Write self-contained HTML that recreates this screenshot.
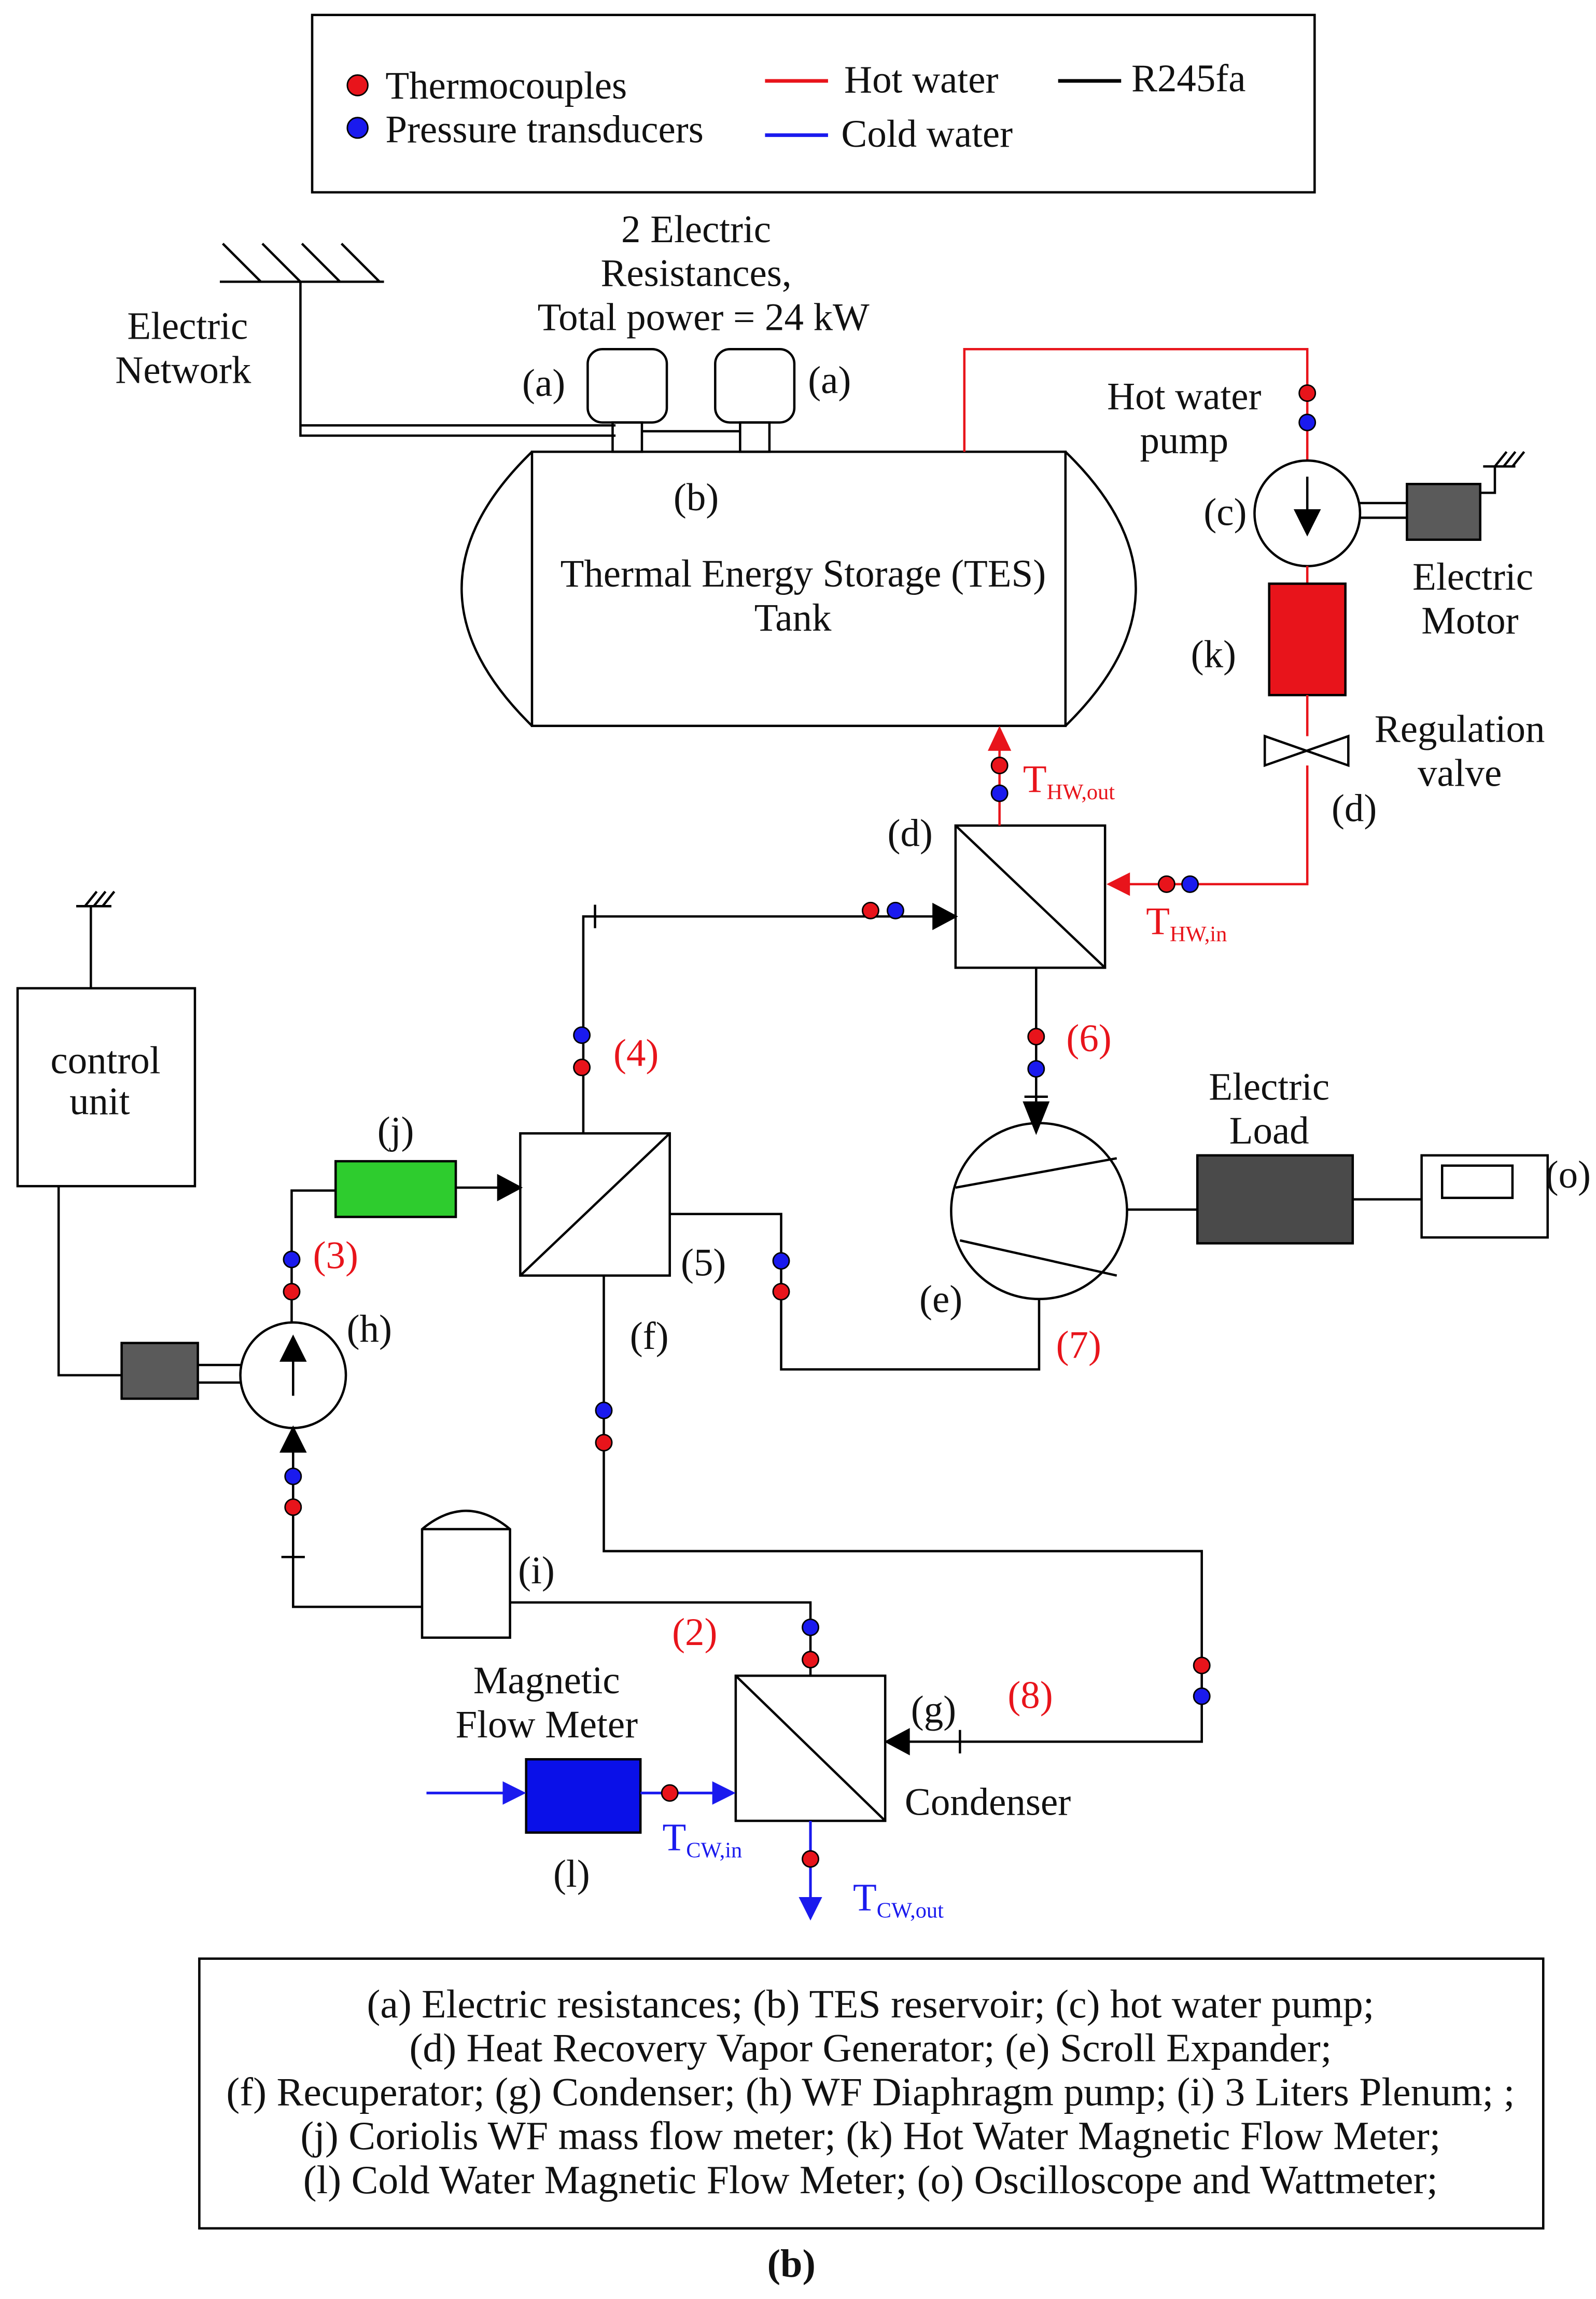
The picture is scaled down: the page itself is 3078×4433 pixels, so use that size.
<!DOCTYPE html>
<html><head><meta charset="utf-8">
<style>
html,body{margin:0;padding:0;background:#fff;}
svg{display:block;}
text{font-family:"Liberation Serif",serif;font-size:26.5px;fill:#111;}
.r{fill:#e8141b;}
.b{fill:#1a1aee;}
.cap{font-size:27.5px;}
</style></head><body>
<svg width="3078" height="4433" viewBox="0 0 1089 1568" xmlns="http://www.w3.org/2000/svg">
<g fill="none" stroke="#000" stroke-width="1.6">
<rect x="213" y="10" width="684" height="121"/>
<line x1="522" y1="55" x2="565" y2="55" stroke="#e8141b" stroke-width="2.5"/>
<line x1="522" y1="92" x2="565" y2="92" stroke="#1a1aee" stroke-width="2.5"/>
<line x1="722" y1="55" x2="765" y2="55" stroke-width="2.5"/>
<line x1="150" y1="192" x2="262" y2="192"/>
<line x1="178" y1="192" x2="152" y2="166"/>
<line x1="205" y1="192" x2="179" y2="166"/>
<line x1="232" y1="192" x2="206" y2="166"/>
<line x1="259" y1="192" x2="233" y2="166"/>
<polyline points="205,192 205,297 420,297"/>
<line x1="205" y1="290" x2="420" y2="290"/>
<line x1="438" y1="294" x2="505" y2="294"/>
<rect x="401" y="238" width="54" height="50" rx="10"/>
<rect x="488" y="238" width="54" height="50" rx="10"/>
<rect x="418" y="288" width="20" height="20"/>
<rect x="505" y="288" width="20" height="20"/>
<rect x="363" y="308" width="364" height="187"/>
<path d="M363,308 Q267,401 363,495"/>
<path d="M727,308 Q823,401 727,495"/>
<polyline points="658,308 658,238 892,238 892,314" stroke="#e8141b"/>
<circle cx="892" cy="350" r="36"/>
<line x1="892" y1="325" x2="892" y2="352"/>
<path d="M884,348 L900,348 L892,364 z" fill="#000"/>
<line x1="928" y1="343" x2="960" y2="343"/><line x1="928" y1="353" x2="960" y2="353"/>
<rect x="960" y="330" width="50" height="38" fill="#5a5a5a"/>
<polyline points="1010,336 1020,336 1020,318"/>
<line x1="1012" y1="318" x2="1034" y2="318"/>
<line x1="1020" y1="318" x2="1028" y2="308"/><line x1="1026" y1="318" x2="1034" y2="308"/><line x1="1032" y1="318" x2="1040" y2="308"/>
<line x1="892" y1="386" x2="892" y2="398" stroke="#e8141b"/>
<rect x="866" y="398" width="52" height="76" fill="#e8141b"/>
<line x1="892" y1="474" x2="892" y2="502" stroke="#e8141b"/>
<path d="M863,502 L920,522 L920,502 L863,522 z"/>
<polyline points="892,522 892,603 768,603" stroke="#e8141b"/>
<path d="M755,603 L771,595 L771,611 z" fill="#e8141b" stroke="none"/>
<rect x="652" y="563" width="102" height="97"/>
<line x1="652" y1="563" x2="754" y2="660"/>
<line x1="682" y1="563" x2="682" y2="510" stroke="#e8141b"/>
<path d="M682,495 L674,512 L690,512 z" fill="#e8141b" stroke="none"/>
<polyline points="398,773 398,625 640,625"/>
<line x1="406" y1="617" x2="406" y2="633"/>
<path d="M652,625 L637,617 L637,633 z" fill="#000"/>
<line x1="707" y1="660" x2="707" y2="756"/>
<line x1="699" y1="748" x2="715" y2="748"/>
<path d="M707,772 L699,752 L715,752 z" fill="#000"/>
<circle cx="709" cy="826" r="60"/>
<line x1="652" y1="810" x2="762" y2="790"/>
<line x1="655" y1="846" x2="762" y2="870"/>
<line x1="769" y1="825" x2="817" y2="825"/>
<rect x="817" y="788" width="106" height="60" fill="#4a4a4a"/>
<line x1="923" y1="818" x2="970" y2="818"/>
<rect x="970" y="788" width="86" height="56"/>
<rect x="984" y="795" width="48" height="22"/>
<polyline points="709,886 709,934 533,934 533,828 457,828"/>
<rect x="355" y="773" width="102" height="97"/>
<line x1="355" y1="870" x2="457" y2="773"/>
<polyline points="412,870 412,1058 820,1058 820,1188 618,1188"/>
<line x1="655" y1="1180" x2="655" y2="1196"/>
<path d="M605,1188 L620,1180 L620,1196 z" fill="#000"/>
<rect x="229" y="792" width="82" height="38" fill="#2ecc2e"/>
<line x1="311" y1="810" x2="342" y2="810"/>
<path d="M355,810 L340,802 L340,818 z" fill="#000"/>
<polyline points="229,812 199,812 199,902"/>
<circle cx="200" cy="938" r="36"/>
<line x1="200" y1="922" x2="200" y2="952"/>
<path d="M192,928 L208,928 L200,912 z" fill="#000"/>
<line x1="135" y1="931" x2="165" y2="931"/><line x1="135" y1="943" x2="165" y2="943"/>
<rect x="83" y="916" width="52" height="38" fill="#5a5a5a"/>
<rect x="12" y="674" width="121" height="135"/>
<polyline points="40,809 40,938 83,938"/>
<line x1="62" y1="674" x2="62" y2="618"/>
<line x1="52" y1="618" x2="76" y2="618"/>
<line x1="58" y1="618" x2="66" y2="608"/><line x1="64" y1="618" x2="72" y2="608"/><line x1="70" y1="618" x2="78" y2="608"/>
<polyline points="200,988 200,1096 288,1096"/>
<path d="M200,974 L192,990 L208,990 z" fill="#000"/>
<line x1="192" y1="1062" x2="208" y2="1062"/>
<path d="M288,1117 L288,1043 Q318,1018 348,1043 L348,1117 z"/>
<line x1="288" y1="1043" x2="348" y2="1043"/>
<polyline points="348,1093 553,1093 553,1143"/>
<rect x="502" y="1143" width="102" height="99"/>
<line x1="502" y1="1143" x2="604" y2="1242"/>
<line x1="553" y1="1242" x2="553" y2="1296" stroke="#1a1aee" stroke-width="1.8"/>
<path d="M553,1310 L545,1294 L561,1294 z" fill="#1a1aee" stroke="none"/>
<rect x="359" y="1200" width="78" height="50" fill="#0a10e8"/>
<line x1="291" y1="1223" x2="345" y2="1223" stroke="#1a1aee" stroke-width="1.8"/>
<path d="M359,1223 L343,1215 L343,1231 z" fill="#1a1aee" stroke="none"/>
<line x1="437" y1="1223" x2="488" y2="1223" stroke="#1a1aee" stroke-width="1.8"/>
<path d="M502,1223 L486,1215 L486,1231 z" fill="#1a1aee" stroke="none"/>
<rect x="136" y="1336" width="917" height="184"/>
</g>
<g stroke="#000" stroke-width="1">
<circle cx="244" cy="58" r="7" fill="#e8141b"/><circle cx="244" cy="87" r="7" fill="#1a1aee"/>
<circle cx="892" cy="268" r="5.5" fill="#e8141b"/><circle cx="892" cy="288" r="5.5" fill="#1a1aee"/>
<circle cx="796" cy="603" r="5.5" fill="#e8141b"/><circle cx="812" cy="603" r="5.5" fill="#1a1aee"/>
<circle cx="682" cy="522" r="5.5" fill="#e8141b"/><circle cx="682" cy="541" r="5.5" fill="#1a1aee"/>
<circle cx="594" cy="621" r="5.5" fill="#e8141b"/><circle cx="611" cy="621" r="5.5" fill="#1a1aee"/>
<circle cx="707" cy="707" r="5.5" fill="#e8141b"/><circle cx="707" cy="729" r="5.5" fill="#1a1aee"/>
<circle cx="397" cy="706" r="5.5" fill="#1a1aee"/><circle cx="397" cy="728" r="5.5" fill="#e8141b"/>
<circle cx="533" cy="860" r="5.5" fill="#1a1aee"/><circle cx="533" cy="881" r="5.5" fill="#e8141b"/>
<circle cx="412" cy="962" r="5.5" fill="#1a1aee"/><circle cx="412" cy="984" r="5.5" fill="#e8141b"/>
<circle cx="820" cy="1136" r="5.5" fill="#e8141b"/><circle cx="820" cy="1157" r="5.5" fill="#1a1aee"/>
<circle cx="199" cy="859" r="5.5" fill="#1a1aee"/><circle cx="199" cy="881" r="5.5" fill="#e8141b"/>
<circle cx="200" cy="1007" r="5.5" fill="#1a1aee"/><circle cx="200" cy="1028" r="5.5" fill="#e8141b"/>
<circle cx="553" cy="1110" r="5.5" fill="#1a1aee"/><circle cx="553" cy="1132" r="5.5" fill="#e8141b"/>
<circle cx="553" cy="1268" r="5.5" fill="#e8141b"/>
<circle cx="457" cy="1223" r="5.5" fill="#e8141b"/>
</g>
<text x="263" y="67">Thermocouples</text>
<text x="263" y="97">Pressure transducers</text>
<text x="576" y="63">Hot water</text>
<text x="574" y="100">Cold water</text>
<text x="772" y="62">R245fa</text>
<g text-anchor="middle">
<text x="128" y="231">Electric</text>
<text x="125" y="261">Network</text>
<text x="475" y="165">2 Electric</text>
<text x="475" y="195">Resistances,</text>
<text x="480" y="225">Total power = 24 kW</text>
<text x="371" y="270">(a)</text>
<text x="566" y="268">(a)</text>
<text x="475" y="348">(b)</text>
<text x="548" y="400">Thermal Energy Storage (TES)</text>
<text x="541" y="430">Tank</text>
<text x="808" y="279">Hot water</text>
<text x="808" y="309">pump</text>
<text x="836" y="358">(c)</text>
<text x="1005" y="402">Electric</text>
<text x="1003" y="432">Motor</text>
<text x="828" y="455">(k)</text>
<text x="996" y="506">Regulation</text>
<text x="996" y="536">valve</text>
<text x="924" y="560">(d)</text>
<text x="621" y="577">(d)</text>
<text x="866" y="750">Electric</text>
<text x="866" y="780">Load</text>
<text x="1070" y="810">(o)</text>
<text x="642" y="895">(e)</text>
<text x="480" y="870">(5)</text>
<text x="443" y="920">(f)</text>
<text x="270" y="780">(j)</text>
<text x="252" y="915">(h)</text>
<text x="72" y="732">control</text>
<text x="68" y="760">unit</text>
<text x="366" y="1080">(i)</text>
<text x="637" y="1175">(g)</text>
<text x="674" y="1238">Condenser</text>
<text x="373" y="1155">Magnetic</text>
<text x="373" y="1185">Flow Meter</text>
<text x="390" y="1287">(l)</text>
<text class="r" x="743" y="717">(6)</text>
<text class="r" x="434" y="727">(4)</text>
<text class="r" x="736" y="926">(7)</text>
<text class="r" x="229" y="865">(3)</text>
<text class="r" x="474" y="1122">(2)</text>
<text class="r" x="703" y="1165">(8)</text>
<text class="cap" x="594" y="1376">(a) Electric resistances; (b) TES reservoir; (c) hot water pump;</text>
<text class="cap" x="594" y="1406">(d) Heat Recovery Vapor Generator; (e) Scroll Expander;</text>
<text class="cap" x="594" y="1436">(f) Recuperator; (g) Condenser; (h) WF Diaphragm pump; (i) 3 Liters Plenum; ;</text>
<text class="cap" x="594" y="1466">(j) Coriolis WF mass flow meter; (k) Hot Water Magnetic Flow Meter;</text>
<text class="cap" x="594" y="1496">(l) Cold Water Magnetic Flow Meter; (o) Oscilloscope and Wattmeter;</text>
<text x="540" y="1553" font-weight="bold" style="font-size:27px">(b)</text>
</g>
<text class="r" x="698" y="540">T<tspan style="font-size:15px" dy="5">HW,out</tspan></text>
<text class="r" x="782" y="637">T<tspan style="font-size:15px" dy="5">HW,in</tspan></text>
<text class="b" x="452" y="1262">T<tspan style="font-size:15px" dy="5">CW,in</tspan></text>
<text class="b" x="582" y="1303">T<tspan style="font-size:15px" dy="5">CW,out</tspan></text>
</svg>
</body></html>
